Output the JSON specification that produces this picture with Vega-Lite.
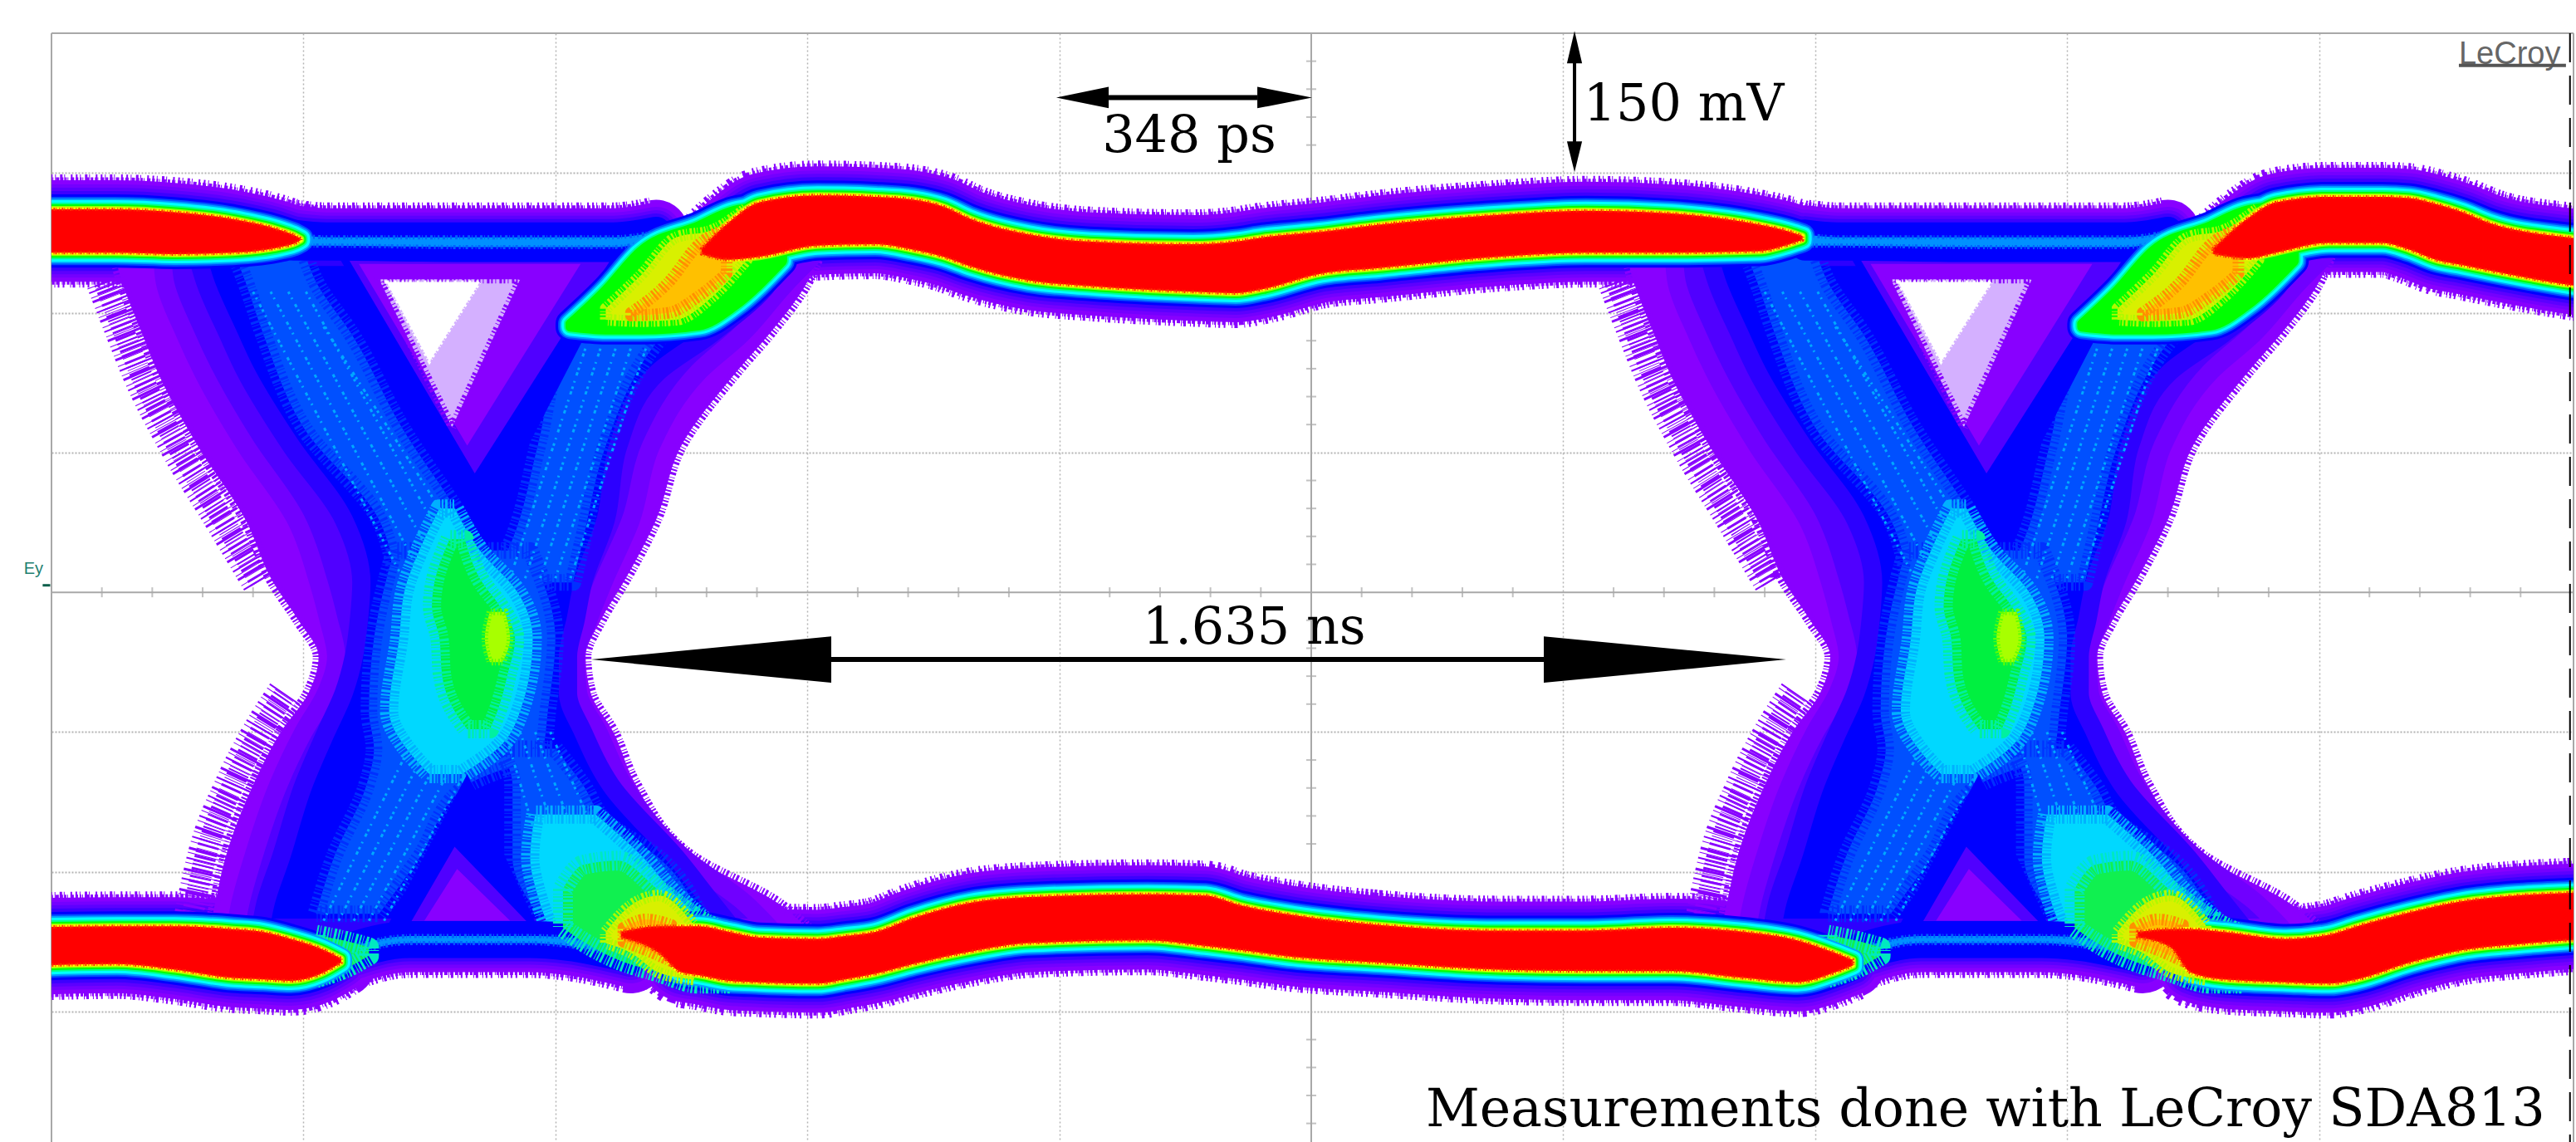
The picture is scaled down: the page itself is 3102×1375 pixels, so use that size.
{"$schema":"https://vega.github.io/schema/vega-lite/v6.json","width":3037,"height":1335,"autosize":{"type":"none"},"padding":{"left":62,"top":40,"right":3,"bottom":0},"background":"white","view":{"stroke":null},
"datasets":{
"bands":[
{"s":"T1","k":"c","t":-20,"v":274,"v2":243},{"s":"T1","k":"c","t":25,"v":274,"v2":243},{"s":"T1","k":"c","t":49,"v":272,"v2":242},{"s":"T1","k":"c","t":72,"v":267,"v2":243},{"s":"T1","k":"c","t":91,"v":259,"v2":247},{"s":"T1","k":"c","t":97,"v":255,"v2":250},{"s":"T1","k":"c","t":99,"v":253,"v2":252},
{"s":"T2","k":"c","t":258,"v":246,"v2":242},{"s":"T2","k":"c","t":269,"v":265,"v2":238},{"s":"T2","k":"c","t":281,"v":279,"v2":240},{"s":"T2","k":"c","t":304,"v":284,"v2":248},{"s":"T2","k":"c","t":327,"v":283,"v2":249},{"s":"T2","k":"c","t":342,"v":281,"v2":245},{"s":"T2","k":"c","t":354,"v":276,"v2":240},{"s":"T2","k":"c","t":365,"v":267,"v2":233},{"s":"T2","k":"c","t":388,"v":256,"v2":223},{"s":"T2","k":"c","t":412,"v":251,"v2":219},{"s":"T2","k":"c","t":453,"v":249,"v2":215},{"s":"T2","k":"c","t":470,"v":251,"v2":214},{"s":"T2","k":"c","t":481,"v":254,"v2":217},{"s":"T2","k":"c","t":504,"v":258,"v2":228},{"s":"T2","k":"c","t":527,"v":263,"v2":232},{"s":"T2","k":"c","t":574,"v":270,"v2":240},{"s":"T2","k":"c","t":609,"v":273,"v2":243},{"s":"T2","k":"c","t":643,"v":271,"v2":243},{"s":"T2","k":"c","t":678,"v":263,"v2":244},{"s":"T2","k":"c","t":690,"v":258,"v2":249},{"s":"T2","k":"c","t":695,"v":255,"v2":252},
{"s":"T3","k":"c","t":858,"v":246,"v2":242},{"s":"T3","k":"c","t":872,"v":268,"v2":239},{"s":"T3","k":"c","t":883,"v":279,"v2":243},{"s":"T3","k":"c","t":904,"v":283,"v2":250},{"s":"T3","k":"c","t":925,"v":283,"v2":250},{"s":"T3","k":"c","t":936,"v":282,"v2":245},{"s":"T3","k":"c","t":946,"v":278,"v2":238},{"s":"T3","k":"c","t":957,"v":272,"v2":234},{"s":"T3","k":"c","t":968,"v":264,"v2":230},{"s":"T3","k":"c","t":999,"v":254,"v2":220},{"s":"T3","k":"c","t":1025,"v":250,"v2":214},
{"s":"B1","k":"c","t":-20,"v":-240,"v2":-268},{"s":"B1","k":"c","t":26,"v":-239,"v2":-266},{"s":"B1","k":"c","t":49,"v":-239,"v2":-270},{"s":"B1","k":"c","t":72,"v":-241,"v2":-276},{"s":"B1","k":"c","t":84,"v":-243,"v2":-277},{"s":"B1","k":"c","t":95,"v":-248,"v2":-278},{"s":"B1","k":"c","t":107,"v":-255,"v2":-273},{"s":"B1","k":"c","t":115,"v":-262,"v2":-265},
{"s":"B2","k":"c","t":226,"v":-243,"v2":-247},{"s":"B2","k":"c","t":241,"v":-239,"v2":-258},{"s":"B2","k":"c","t":250,"v":-239,"v2":-272},{"s":"B2","k":"c","t":257,"v":-239,"v2":-274},{"s":"B2","k":"c","t":269,"v":-243,"v2":-278},{"s":"B2","k":"c","t":281,"v":-247,"v2":-279},{"s":"B2","k":"c","t":304,"v":-248,"v2":-280},{"s":"B2","k":"c","t":315,"v":-246,"v2":-277},{"s":"B2","k":"c","t":327,"v":-243,"v2":-273},{"s":"B2","k":"c","t":342,"v":-233,"v2":-266},{"s":"B2","k":"c","t":365,"v":-222,"v2":-257},{"s":"B2","k":"c","t":388,"v":-218,"v2":-251},{"s":"B2","k":"c","t":435,"v":-216,"v2":-249},{"s":"B2","k":"c","t":458,"v":-217,"v2":-253},{"s":"B2","k":"c","t":472,"v":-224,"v2":-256},{"s":"B2","k":"c","t":493,"v":-231,"v2":-261},{"s":"B2","k":"c","t":527,"v":-238,"v2":-265},{"s":"B2","k":"c","t":574,"v":-242,"v2":-270},{"s":"B2","k":"c","t":609,"v":-242,"v2":-271},{"s":"B2","k":"c","t":643,"v":-240,"v2":-271},{"s":"B2","k":"c","t":672,"v":-243,"v2":-276},{"s":"B2","k":"c","t":693,"v":-249,"v2":-279},{"s":"B2","k":"c","t":708,"v":-258,"v2":-272},{"s":"B2","k":"c","t":715,"v":-263,"v2":-267},
{"s":"B3","k":"c","t":828,"v":-243,"v2":-247},{"s":"B3","k":"c","t":841,"v":-241,"v2":-254},{"s":"B3","k":"c","t":849,"v":-241,"v2":-272},{"s":"B3","k":"c","t":862,"v":-243,"v2":-277},{"s":"B3","k":"c","t":887,"v":-248,"v2":-279},{"s":"B3","k":"c","t":904,"v":-245,"v2":-280},{"s":"B3","k":"c","t":915,"v":-239,"v2":-277},{"s":"B3","k":"c","t":936,"v":-229,"v2":-265},{"s":"B3","k":"c","t":957,"v":-221,"v2":-256},{"s":"B3","k":"c","t":978,"v":-217,"v2":-252},{"s":"B3","k":"c","t":999,"v":-215,"v2":-249},{"s":"B3","k":"c","t":1025,"v":-213,"v2":-247},
{"s":"N1","k":"n","t":96,"v":256,"v2":248},{"s":"N1","k":"n","t":109,"v":254,"v2":248},{"s":"N1","k":"n","t":165,"v":254,"v2":247},{"s":"N1","k":"n","t":223,"v":254,"v2":247},{"s":"N1","k":"n","t":240,"v":258,"v2":252},
{"s":"N2","k":"n","t":696,"v":256,"v2":248},{"s":"N2","k":"n","t":709,"v":254,"v2":248},{"s":"N2","k":"n","t":765,"v":254,"v2":247},{"s":"N2","k":"n","t":823,"v":254,"v2":247},{"s":"N2","k":"n","t":840,"v":258,"v2":252},
{"s":"N3","k":"n","t":115,"v":-256,"v2":-262},{"s":"N3","k":"n","t":142,"v":-246,"v2":-251},{"s":"N3","k":"n","t":165,"v":-246,"v2":-251},{"s":"N3","k":"n","t":190,"v":-246,"v2":-251},{"s":"N3","k":"n","t":205,"v":-247,"v2":-253},{"s":"N3","k":"n","t":230,"v":-254,"v2":-262},
{"s":"N4","k":"n","t":715,"v":-256,"v2":-262},{"s":"N4","k":"n","t":742,"v":-246,"v2":-251},{"s":"N4","k":"n","t":765,"v":-246,"v2":-251},{"s":"N4","k":"n","t":790,"v":-246,"v2":-251},{"s":"N4","k":"n","t":805,"v":-247,"v2":-253},{"s":"N4","k":"n","t":830,"v":-254,"v2":-262},
{"s":"G1","k":"g","t":206,"v":192,"v2":190},{"s":"G1","k":"g","t":220,"v":216,"v2":188},{"s":"G1","k":"g","t":234,"v":244,"v2":188},{"s":"G1","k":"g","t":257,"v":262,"v2":191},{"s":"G1","k":"g","t":271,"v":273,"v2":205},{"s":"G1","k":"g","t":290,"v":277,"v2":237},
{"s":"G2","k":"g","t":806,"v":192,"v2":190},{"s":"G2","k":"g","t":820,"v":216,"v2":188},{"s":"G2","k":"g","t":834,"v":244,"v2":188},{"s":"G2","k":"g","t":857,"v":262,"v2":191},{"s":"G2","k":"g","t":871,"v":273,"v2":205},{"s":"G2","k":"g","t":890,"v":277,"v2":237},
{"s":"G3","k":"h","t":203,"v":-212,"v2":-240},{"s":"G3","k":"h","t":211,"v":-195,"v2":-250},{"s":"G3","k":"h","t":225,"v":-192,"v2":-263},{"s":"G3","k":"h","t":241,"v":-213,"v2":-272},{"s":"G3","k":"h","t":257,"v":-234,"v2":-280},{"s":"G3","k":"h","t":270,"v":-245,"v2":-280},
{"s":"G4","k":"h","t":803,"v":-212,"v2":-240},{"s":"G4","k":"h","t":811,"v":-195,"v2":-250},{"s":"G4","k":"h","t":825,"v":-192,"v2":-263},{"s":"G4","k":"h","t":841,"v":-213,"v2":-272},{"s":"G4","k":"h","t":857,"v":-234,"v2":-280},{"s":"G4","k":"h","t":870,"v":-245,"v2":-280},
{"s":"G7","k":"h","t":105,"v":-245,"v2":-276},{"s":"G7","k":"h","t":118,"v":-250,"v2":-268},{"s":"G7","k":"h","t":126,"v":-254,"v2":-260},
{"s":"G8","k":"h","t":705,"v":-245,"v2":-276},{"s":"G8","k":"h","t":718,"v":-250,"v2":-268},{"s":"G8","k":"h","t":726,"v":-254,"v2":-260},
{"s":"Y1","k":"y","t":220,"v":203,"v2":195},{"s":"Y1","k":"y","t":234,"v":227,"v2":194},{"s":"Y1","k":"y","t":248,"v":254,"v2":195},{"s":"Y1","k":"y","t":262,"v":259,"v2":211},{"s":"Y1","k":"y","t":276,"v":275,"v2":238},
{"s":"Y2","k":"y","t":820,"v":203,"v2":195},{"s":"Y2","k":"y","t":834,"v":227,"v2":194},{"s":"Y2","k":"y","t":848,"v":254,"v2":195},{"s":"Y2","k":"y","t":862,"v":259,"v2":211},{"s":"Y2","k":"y","t":876,"v":275,"v2":238},
{"s":"Y3","k":"y","t":220,"v":-243,"v2":-251},{"s":"Y3","k":"y","t":230,"v":-224,"v2":-258},{"s":"Y3","k":"y","t":241,"v":-217,"v2":-272},{"s":"Y3","k":"y","t":255,"v":-238,"v2":-277},
{"s":"Y4","k":"y","t":820,"v":-243,"v2":-251},{"s":"Y4","k":"y","t":830,"v":-224,"v2":-258},{"s":"Y4","k":"y","t":841,"v":-217,"v2":-272},{"s":"Y4","k":"y","t":855,"v":-238,"v2":-277},
{"s":"O1","k":"o","t":230,"v":200,"v2":198},{"s":"O1","k":"o","t":245,"v":222,"v2":200},{"s":"O1","k":"o","t":257,"v":249,"v2":212},{"s":"O1","k":"o","t":268,"v":260,"v2":228},
{"s":"O2","k":"o","t":830,"v":200,"v2":198},{"s":"O2","k":"o","t":845,"v":222,"v2":200},{"s":"O2","k":"o","t":857,"v":249,"v2":212},{"s":"O2","k":"o","t":868,"v":260,"v2":228},
{"s":"O3","k":"o","t":227,"v":-240,"v2":-250},{"s":"O3","k":"o","t":236,"v":-234,"v2":-256},{"s":"O3","k":"o","t":246,"v":-238,"v2":-264},
{"s":"O4","k":"o","t":827,"v":-240,"v2":-250},{"s":"O4","k":"o","t":836,"v":-234,"v2":-256},{"s":"O4","k":"o","t":846,"v":-238,"v2":-264}
],
"edges":[
{"s":"e1","t":21,"v":222},{"s":"e1","t":29,"v":185},{"s":"e1","t":35,"v":158},{"s":"e1","t":50,"v":105},{"s":"e1","t":68,"v":52},{"s":"e1","t":83,"v":7},
{"s":"e2","t":93,"v":-72},{"s":"e2","t":83,"v":-100},{"s":"e2","t":72,"v":-138},{"s":"e2","t":61,"v":-190},{"s":"e2","t":57,"v":-222},{"s":"e2","t":55,"v":-240},
{"s":"e3","t":621,"v":222},{"s":"e3","t":629,"v":185},{"s":"e3","t":635,"v":158},{"s":"e3","t":650,"v":105},{"s":"e3","t":668,"v":52},{"s":"e3","t":683,"v":7},
{"s":"e4","t":693,"v":-72},{"s":"e4","t":683,"v":-100},{"s":"e4","t":672,"v":-138},{"s":"e4","t":661,"v":-190},{"s":"e4","t":657,"v":-222},{"s":"e4","t":655,"v":-240}
],
"streaks":[
{"s":"a1","t":80,"v":215},{"s":"a1","t":138,"v":15},{"s":"a2","t":87,"v":215},{"s":"a2","t":146,"v":15},{"s":"a3","t":94,"v":215},{"s":"a3","t":154,"v":15},{"s":"a4","t":101,"v":215},{"s":"a4","t":162,"v":15},{"s":"a5","t":108,"v":190},{"s":"a5","t":170,"v":15},
{"s":"b1","t":212,"v":175},{"s":"b1","t":182,"v":10},{"s":"b2","t":218,"v":175},{"s":"b2","t":188,"v":10},{"s":"b3","t":224,"v":175},{"s":"b3","t":194,"v":10},{"s":"b4","t":230,"v":175},{"s":"b4","t":200,"v":10},{"s":"b5","t":236,"v":175},{"s":"b5","t":206,"v":10},
{"s":"c1","t":145,"v":-100},{"s":"c1","t":108,"v":-235},{"s":"c2","t":152,"v":-100},{"s":"c2","t":114,"v":-235},{"s":"c3","t":159,"v":-100},{"s":"c3","t":120,"v":-235},{"s":"c4","t":166,"v":-100},{"s":"c4","t":126,"v":-235},{"s":"c5","t":173,"v":-100},{"s":"c5","t":132,"v":-235},
{"s":"d1","t":180,"v":-100},{"s":"d1","t":198,"v":-210},{"s":"d2","t":186,"v":-100},{"s":"d2","t":205,"v":-200},{"s":"d3","t":192,"v":-100},{"s":"d3","t":212,"v":-195},{"s":"d4","t":198,"v":-100},{"s":"d4","t":220,"v":-190},
{"s":"f1","t":680,"v":215},{"s":"f1","t":738,"v":15},{"s":"f2","t":687,"v":215},{"s":"f2","t":746,"v":15},{"s":"f3","t":694,"v":215},{"s":"f3","t":754,"v":15},{"s":"f4","t":701,"v":215},{"s":"f4","t":762,"v":15},{"s":"f5","t":708,"v":190},{"s":"f5","t":770,"v":15},
{"s":"g1","t":812,"v":175},{"s":"g1","t":782,"v":10},{"s":"g2","t":818,"v":175},{"s":"g2","t":788,"v":10},{"s":"g3","t":824,"v":175},{"s":"g3","t":794,"v":10},{"s":"g4","t":830,"v":175},{"s":"g4","t":800,"v":10},{"s":"g5","t":836,"v":175},{"s":"g5","t":806,"v":10},
{"s":"h1","t":745,"v":-100},{"s":"h1","t":708,"v":-235},{"s":"h2","t":752,"v":-100},{"s":"h2","t":714,"v":-235},{"s":"h3","t":759,"v":-100},{"s":"h3","t":720,"v":-235},{"s":"h4","t":766,"v":-100},{"s":"h4","t":726,"v":-235},{"s":"h5","t":773,"v":-100},{"s":"h5","t":732,"v":-235},
{"s":"i1","t":780,"v":-100},{"s":"i1","t":798,"v":-210},{"s":"i2","t":786,"v":-100},{"s":"i2","t":805,"v":-200},{"s":"i3","t":792,"v":-100},{"s":"i3","t":812,"v":-195},{"s":"i4","t":798,"v":-100},{"s":"i4","t":820,"v":-190}
],
"body":[
{"s":"P1","k":"P","v":250,"t":24,"t2":306},{"s":"P1","k":"P","v":222,"t":28,"t2":300},{"s":"P1","k":"P","v":185,"t":36,"t2":285},{"s":"P1","k":"P","v":158,"t":42,"t2":272},{"s":"P1","k":"P","v":105,"t":58,"t2":250},{"s":"P1","k":"P","v":52,"t":77,"t2":240},{"s":"P1","k":"P","v":7,"t":88,"t2":227},{"s":"P1","k":"P","v":-20,"t":98,"t2":218},{"s":"P1","k":"P","v":-46,"t":106,"t2":212},{"s":"P1","k":"P","v":-72,"t":102,"t2":214},{"s":"P1","k":"P","v":-100,"t":91,"t2":223},{"s":"P1","k":"P","v":-138,"t":80,"t2":232},{"s":"P1","k":"P","v":-190,"t":69,"t2":255},{"s":"P1","k":"P","v":-222,"t":65,"t2":288},{"s":"P1","k":"P","v":-240,"t":63,"t2":300},
{"s":"P2","k":"P","v":250,"t":624,"t2":906},{"s":"P2","k":"P","v":222,"t":628,"t2":900},{"s":"P2","k":"P","v":185,"t":636,"t2":885},{"s":"P2","k":"P","v":158,"t":642,"t2":872},{"s":"P2","k":"P","v":105,"t":658,"t2":850},{"s":"P2","k":"P","v":52,"t":677,"t2":840},{"s":"P2","k":"P","v":7,"t":688,"t2":827},{"s":"P2","k":"P","v":-20,"t":698,"t2":818},{"s":"P2","k":"P","v":-46,"t":706,"t2":812},{"s":"P2","k":"P","v":-72,"t":702,"t2":814},{"s":"P2","k":"P","v":-100,"t":691,"t2":823},{"s":"P2","k":"P","v":-138,"t":680,"t2":832},{"s":"P2","k":"P","v":-190,"t":669,"t2":855},{"s":"P2","k":"P","v":-222,"t":665,"t2":888},{"s":"P2","k":"P","v":-240,"t":663,"t2":900},
{"s":"V1","k":"V","v":240,"t":44,"t2":302},{"s":"V1","k":"V","v":222,"t":45,"t2":292},{"s":"V1","k":"V","v":185,"t":53,"t2":274},{"s":"V1","k":"V","v":158,"t":60,"t2":257},{"s":"V1","k":"V","v":105,"t":77,"t2":238},{"s":"V1","k":"V","v":52,"t":97,"t2":230},{"s":"V1","k":"V","v":7,"t":106,"t2":219},{"s":"V1","k":"V","v":-20,"t":110,"t2":213},{"s":"V1","k":"V","v":-46,"t":113,"t2":208},{"s":"V1","k":"V","v":-72,"t":109,"t2":209},{"s":"V1","k":"V","v":-100,"t":100,"t2":217},{"s":"V1","k":"V","v":-138,"t":90,"t2":227},{"s":"V1","k":"V","v":-190,"t":80,"t2":251},{"s":"V1","k":"V","v":-222,"t":75,"t2":275},{"s":"V1","k":"V","v":-240,"t":73,"t2":285},
{"s":"V2","k":"V","v":240,"t":644,"t2":902},{"s":"V2","k":"V","v":222,"t":645,"t2":892},{"s":"V2","k":"V","v":185,"t":653,"t2":874},{"s":"V2","k":"V","v":158,"t":660,"t2":857},{"s":"V2","k":"V","v":105,"t":677,"t2":838},{"s":"V2","k":"V","v":52,"t":697,"t2":830},{"s":"V2","k":"V","v":7,"t":706,"t2":819},{"s":"V2","k":"V","v":-20,"t":710,"t2":813},{"s":"V2","k":"V","v":-46,"t":713,"t2":808},{"s":"V2","k":"V","v":-72,"t":709,"t2":809},{"s":"V2","k":"V","v":-100,"t":700,"t2":817},{"s":"V2","k":"V","v":-138,"t":690,"t2":827},{"s":"V2","k":"V","v":-190,"t":680,"t2":851},{"s":"V2","k":"V","v":-222,"t":675,"t2":875},{"s":"V2","k":"V","v":-240,"t":673,"t2":885},
{"s":"B1","k":"B","v":240,"t":58,"t2":290},{"s":"B1","k":"B","v":222,"t":61,"t2":285},{"s":"B1","k":"B","v":185,"t":70,"t2":262},{"s":"B1","k":"B","v":158,"t":77,"t2":241},{"s":"B1","k":"B","v":105,"t":95,"t2":225},{"s":"B1","k":"B","v":52,"t":116,"t2":220},{"s":"B1","k":"B","v":7,"t":123,"t2":211},{"s":"B1","k":"B","v":-20,"t":122,"t2":208},{"s":"B1","k":"B","v":-46,"t":120,"t2":205},{"s":"B1","k":"B","v":-72,"t":116,"t2":205},{"s":"B1","k":"B","v":-100,"t":109,"t2":211},{"s":"B1","k":"B","v":-138,"t":100,"t2":222},{"s":"B1","k":"B","v":-190,"t":91,"t2":248},{"s":"B1","k":"B","v":-222,"t":85,"t2":262},{"s":"B1","k":"B","v":-240,"t":83,"t2":270},
{"s":"B2","k":"B","v":240,"t":658,"t2":890},{"s":"B2","k":"B","v":222,"t":661,"t2":885},{"s":"B2","k":"B","v":185,"t":670,"t2":862},{"s":"B2","k":"B","v":158,"t":677,"t2":841},{"s":"B2","k":"B","v":105,"t":695,"t2":825},{"s":"B2","k":"B","v":52,"t":716,"t2":820},{"s":"B2","k":"B","v":7,"t":723,"t2":811},{"s":"B2","k":"B","v":-20,"t":722,"t2":808},{"s":"B2","k":"B","v":-46,"t":720,"t2":805},{"s":"B2","k":"B","v":-72,"t":716,"t2":805},{"s":"B2","k":"B","v":-100,"t":709,"t2":811},{"s":"B2","k":"B","v":-138,"t":700,"t2":822},{"s":"B2","k":"B","v":-190,"t":691,"t2":848},{"s":"B2","k":"B","v":-222,"t":685,"t2":862},{"s":"B2","k":"B","v":-240,"t":683,"t2":870},
{"s":"A1","k":"A","v":245,"t":72,"t2":100},{"s":"A1","k":"A","v":222,"t":77,"t2":105},{"s":"A1","k":"A","v":185,"t":84,"t2":119},{"s":"A1","k":"A","v":118,"t":100,"t2":139},{"s":"A1","k":"A","v":52,"t":130,"t2":163},{"s":"A1","k":"A","v":7,"t":137,"t2":176},
{"s":"A2","k":"A","v":245,"t":672,"t2":700},{"s":"A2","k":"A","v":222,"t":677,"t2":705},{"s":"A2","k":"A","v":185,"t":684,"t2":719},{"s":"A2","k":"A","v":118,"t":700,"t2":739},{"s":"A2","k":"A","v":52,"t":730,"t2":763},{"s":"A2","k":"A","v":7,"t":737,"t2":776},
{"s":"A3","k":"A","v":190,"t":207,"t2":245},{"s":"A3","k":"A","v":171,"t":202,"t2":237},{"s":"A3","k":"A","v":105,"t":193,"t2":220},{"s":"A3","k":"A","v":38,"t":183,"t2":211},{"s":"A3","k":"A","v":7,"t":175,"t2":207},
{"s":"A4","k":"A","v":190,"t":807,"t2":845},{"s":"A4","k":"A","v":171,"t":802,"t2":837},{"s":"A4","k":"A","v":105,"t":793,"t2":820},{"s":"A4","k":"A","v":38,"t":783,"t2":811},{"s":"A4","k":"A","v":7,"t":775,"t2":807},
{"s":"A5","k":"A","v":30,"t":136,"t2":190},{"s":"A5","k":"A","v":-33,"t":128,"t2":200},{"s":"A5","k":"A","v":-85,"t":126,"t2":197},{"s":"A5","k":"A","v":-112,"t":128,"t2":195},{"s":"A5","k":"A","v":-138,"t":125,"t2":165},{"s":"A5","k":"A","v":-190,"t":112,"t2":146},{"s":"A5","k":"A","v":-230,"t":105,"t2":130},
{"s":"A6","k":"A","v":30,"t":736,"t2":790},{"s":"A6","k":"A","v":-33,"t":728,"t2":800},{"s":"A6","k":"A","v":-85,"t":726,"t2":797},{"s":"A6","k":"A","v":-112,"t":728,"t2":795},{"s":"A6","k":"A","v":-138,"t":725,"t2":765},{"s":"A6","k":"A","v":-190,"t":712,"t2":746},{"s":"A6","k":"A","v":-230,"t":705,"t2":730},
{"s":"A7","k":"A","v":-112,"t":178,"t2":200},{"s":"A7","k":"A","v":-138,"t":183,"t2":211},{"s":"A7","k":"A","v":-164,"t":183,"t2":220},{"s":"A7","k":"A","v":-190,"t":183,"t2":241},{"s":"A7","k":"A","v":-230,"t":193,"t2":257},
{"s":"A8","k":"A","v":-112,"t":778,"t2":800},{"s":"A8","k":"A","v":-138,"t":783,"t2":811},{"s":"A8","k":"A","v":-164,"t":783,"t2":820},{"s":"A8","k":"A","v":-190,"t":783,"t2":841},{"s":"A8","k":"A","v":-230,"t":793,"t2":857},
{"s":"C1","k":"C","v":60,"t":154,"t2":160},{"s":"C1","k":"C","v":30,"t":146,"t2":170},{"s":"C1","k":"C","v":0,"t":140,"t2":185},{"s":"C1","k":"C","v":-33,"t":138,"t2":191},{"s":"C1","k":"C","v":-85,"t":134,"t2":186},{"s":"C1","k":"C","v":-112,"t":141,"t2":177},{"s":"C1","k":"C","v":-130,"t":150,"t2":163},
{"s":"C2","k":"C","v":60,"t":754,"t2":760},{"s":"C2","k":"C","v":30,"t":746,"t2":770},{"s":"C2","k":"C","v":0,"t":740,"t2":785},{"s":"C2","k":"C","v":-33,"t":738,"t2":791},{"s":"C2","k":"C","v":-85,"t":734,"t2":786},{"s":"C2","k":"C","v":-112,"t":741,"t2":777},{"s":"C2","k":"C","v":-130,"t":750,"t2":763},
{"s":"C3","k":"C","v":-159,"t":192,"t2":216},{"s":"C3","k":"C","v":-190,"t":190,"t2":235},{"s":"C3","k":"C","v":-217,"t":193,"t2":248},{"s":"C3","k":"C","v":-243,"t":198,"t2":265},
{"s":"C4","k":"C","v":-159,"t":792,"t2":816},{"s":"C4","k":"C","v":-190,"t":790,"t2":835},{"s":"C4","k":"C","v":-217,"t":793,"t2":848},{"s":"C4","k":"C","v":-243,"t":798,"t2":865},
{"s":"G1","k":"G","v":38,"t":158,"t2":164},{"s":"G1","k":"G","v":7,"t":152,"t2":171},{"s":"G1","k":"G","v":-10,"t":151,"t2":178},{"s":"G1","k":"G","v":-33,"t":154,"t2":184},{"s":"G1","k":"G","v":-59,"t":155,"t2":181},{"s":"G1","k":"G","v":-85,"t":160,"t2":177},{"s":"G1","k":"G","v":-98,"t":165,"t2":174},
{"s":"G2","k":"G","v":38,"t":758,"t2":764},{"s":"G2","k":"G","v":7,"t":752,"t2":771},{"s":"G2","k":"G","v":-10,"t":751,"t2":778},{"s":"G2","k":"G","v":-33,"t":754,"t2":784},{"s":"G2","k":"G","v":-59,"t":755,"t2":781},{"s":"G2","k":"G","v":-85,"t":760,"t2":777},{"s":"G2","k":"G","v":-98,"t":765,"t2":774},
{"s":"L1","k":"L","v":-14,"t":174,"t2":180},{"s":"L1","k":"L","v":-33,"t":172,"t2":182},{"s":"L1","k":"L","v":-50,"t":174,"t2":179},
{"s":"L2","k":"L","v":-14,"t":774,"t2":780},{"s":"L2","k":"L","v":-33,"t":772,"t2":782},{"s":"L2","k":"L","v":-50,"t":774,"t2":779}
],
"tri":[
{"s":"a1","k":"B","t":114,"v":240,"v2":240},{"s":"a1","k":"B","t":174,"v":240,"v2":52},{"s":"a1","k":"B","t":228,"v":240,"v2":240},
{"s":"a2","k":"V","t":118,"v":238,"v2":238},{"s":"a2","k":"V","t":168,"v":238,"v2":85},{"s":"a2","k":"V","t":222,"v":238,"v2":238},
{"s":"a3","k":"P","t":122,"v":235,"v2":235},{"s":"a3","k":"P","t":165,"v":235,"v2":105},{"s":"a3","k":"P","t":210,"v":235,"v2":235},
{"s":"a4","k":"F","t":130,"v":224,"v2":224},{"s":"a4","k":"F","t":159,"v":224,"v2":118},{"s":"a4","k":"F","t":186,"v":224,"v2":224},
{"s":"a5","k":"W","t":133,"v":222,"v2":222},{"s":"a5","k":"W","t":150,"v":222,"v2":165},{"s":"a5","k":"W","t":170,"v":222,"v2":222},
{"s":"b1","k":"B","t":714,"v":240,"v2":240},{"s":"b1","k":"B","t":774,"v":240,"v2":52},{"s":"b1","k":"B","t":828,"v":240,"v2":240},
{"s":"b2","k":"V","t":718,"v":238,"v2":238},{"s":"b2","k":"V","t":768,"v":238,"v2":85},{"s":"b2","k":"V","t":822,"v":238,"v2":238},
{"s":"b3","k":"P","t":722,"v":235,"v2":235},{"s":"b3","k":"P","t":765,"v":235,"v2":105},{"s":"b3","k":"P","t":810,"v":235,"v2":235},
{"s":"b4","k":"F","t":730,"v":224,"v2":224},{"s":"b4","k":"F","t":759,"v":224,"v2":118},{"s":"b4","k":"F","t":786,"v":224,"v2":224},
{"s":"b5","k":"W","t":733,"v":222,"v2":222},{"s":"b5","k":"W","t":750,"v":222,"v2":165},{"s":"b5","k":"W","t":770,"v":222,"v2":222},
{"s":"c1","k":"B","t":133,"v":-240,"v2":-240},{"s":"c1","k":"B","t":165,"v":-130,"v2":-240},{"s":"c1","k":"B","t":193,"v":-240,"v2":-240},
{"s":"c2","k":"V","t":142,"v":-238,"v2":-238},{"s":"c2","k":"V","t":160,"v":-182,"v2":-238},{"s":"c2","k":"V","t":190,"v":-238,"v2":-238},
{"s":"c3","k":"P","t":148,"v":-235,"v2":-235},{"s":"c3","k":"P","t":161,"v":-198,"v2":-235},{"s":"c3","k":"P","t":182,"v":-235,"v2":-235},
{"s":"d1","k":"B","t":733,"v":-240,"v2":-240},{"s":"d1","k":"B","t":765,"v":-130,"v2":-240},{"s":"d1","k":"B","t":793,"v":-240,"v2":-240},
{"s":"d2","k":"V","t":742,"v":-238,"v2":-238},{"s":"d2","k":"V","t":760,"v":-182,"v2":-238},{"s":"d2","k":"V","t":790,"v":-238,"v2":-238},
{"s":"d3","k":"P","t":748,"v":-235,"v2":-235},{"s":"d3","k":"P","t":761,"v":-198,"v2":-235},{"s":"d3","k":"P","t":782,"v":-235,"v2":-235}
],
"heads":[
{"s":"h1","t":398.8,"v":354,"v2":354},{"s":"h1","t":419.6,"v":361.7,"v2":346.3},
{"s":"h2","t":478.6,"v":361.7,"v2":346.3},{"s":"h2","t":500.3,"v":354,"v2":354},
{"s":"h3","t":214.2,"v":-48.1,"v2":-48.1},{"s":"h3","t":309.5,"v":-31.5,"v2":-64.7},
{"s":"h4","t":592.3,"v":-31.5,"v2":-64.7},{"s":"h4","t":688.5,"v":-48.1,"v2":-48.1},
{"s":"h5","t":601.5,"v":378.5,"v2":378.5},{"s":"h5","t":604.5,"v":401.7,"v2":378.5},{"s":"h5","t":607.5,"v":378.5,"v2":378.5},
{"s":"h6","t":601.5,"v":322.6,"v2":322.6},{"s":"h6","t":604.5,"v":322.6,"v2":300.6},{"s":"h6","t":607.5,"v":322.6,"v2":322.6}
]},
"encoding":{
"x":{"field":"t","type":"quantitative","scale":{"domain":[0,1001],"nice":false,"zero":false},"axis":{"values":[100,200,300,400,600,700,800,900],"grid":true,"gridColor":"#b4b4b4","gridDash":[2,3],"gridWidth":1.5,"domain":false,"ticks":false,"labels":false,"title":null}},
"y":{"field":"v","type":"quantitative","scale":{"domain":[-393.3,400],"nice":false,"zero":false},"axis":{"values":[300,200,100,-100,-200,-300],"grid":true,"gridColor":"#b4b4b4","gridDash":[2,2],"gridWidth":2,"domain":false,"ticks":false,"labels":false,"title":null}}
},
"layer":[
{"data":{"values":[{"t":20,"v":0},{"t":40,"v":0},{"t":60,"v":0},{"t":80,"v":0},{"t":120,"v":0},{"t":140,"v":0},{"t":160,"v":0},{"t":180,"v":0},{"t":220,"v":0},{"t":240,"v":0},{"t":260,"v":0},{"t":280,"v":0},{"t":320,"v":0},{"t":340,"v":0},{"t":360,"v":0},{"t":380,"v":0},{"t":420,"v":0},{"t":440,"v":0},{"t":460,"v":0},{"t":480,"v":0},{"t":520,"v":0},{"t":540,"v":0},{"t":560,"v":0},{"t":580,"v":0},{"t":620,"v":0},{"t":640,"v":0},{"t":660,"v":0},{"t":680,"v":0},{"t":720,"v":0},{"t":740,"v":0},{"t":760,"v":0},{"t":780,"v":0},{"t":820,"v":0},{"t":840,"v":0},{"t":860,"v":0},{"t":880,"v":0},{"t":920,"v":0},{"t":940,"v":0},{"t":960,"v":0},{"t":980,"v":0}]},"mark":{"type":"tick","orient":"vertical","size":12,"thickness":2,"color":"#a8a8a8"}},
{"data":{"values":[{"t":500,"v":380},{"t":500,"v":360},{"t":500,"v":340},{"t":500,"v":320},{"t":500,"v":280},{"t":500,"v":260},{"t":500,"v":240},{"t":500,"v":220},{"t":500,"v":180},{"t":500,"v":160},{"t":500,"v":140},{"t":500,"v":120},{"t":500,"v":80},{"t":500,"v":60},{"t":500,"v":40},{"t":500,"v":20},{"t":500,"v":-20},{"t":500,"v":-40},{"t":500,"v":-60},{"t":500,"v":-80},{"t":500,"v":-120},{"t":500,"v":-140},{"t":500,"v":-160},{"t":500,"v":-180},{"t":500,"v":-220},{"t":500,"v":-240},{"t":500,"v":-260},{"t":500,"v":-280},{"t":500,"v":-320},{"t":500,"v":-340},{"t":500,"v":-360},{"t":500,"v":-380}]},"mark":{"type":"tick","orient":"horizontal","size":12,"thickness":2,"color":"#a8a8a8"}},
{"data":{"values":[{"t":0,"v":400,"v2":-393.3},{"t":500,"v":400,"v2":-393.3},{"t":1001,"v":400,"v2":-393.3}]},"mark":{"type":"rule","color":"#a8a8a8","strokeWidth":2},"encoding":{"y2":{"field":"v2"}}},
{"data":{"values":[{"t":0,"t2":1001,"v":400},{"t":0,"t2":1001,"v":0}]},"mark":{"type":"rule","color":"#a8a8a8","strokeWidth":2},"encoding":{"x2":{"field":"t2"}}},
{"data":{"name":"bands"},"transform":[{"filter":"datum.k=='c'||datum.k=='n'"}],"mark":{"type":"area","interpolate":"monotone","clip":true,"fill":"#8800ff","stroke":"#8800ff","strokeWidth":84,"strokeJoin":"round","strokeDash":[2,3,1,5,3,2,1,7,2,4]},"encoding":{"y2":{"field":"v2"},"detail":{"field":"s"}}},
{"data":{"name":"bands"},"transform":[{"filter":"datum.k=='c'||datum.k=='n'"}],"mark":{"type":"area","interpolate":"monotone","clip":true,"fill":"#8800ff","stroke":"#8800ff","strokeWidth":77,"strokeJoin":"round","strokeDash":[3,2,2,1,1,3,4,2]},"encoding":{"y2":{"field":"v2"},"detail":{"field":"s"}}},
{"data":{"name":"bands"},"transform":[{"filter":"datum.k=='c'||datum.k=='n'"}],"mark":{"type":"area","interpolate":"monotone","clip":true,"fill":"#8800ff","stroke":"#8800ff","strokeWidth":70,"strokeJoin":"round"},"encoding":{"y2":{"field":"v2"},"detail":{"field":"s"}}},
{"data":{"name":"bands"},"transform":[{"filter":"datum.k=='c'||datum.k=='n'"}],"mark":{"type":"area","interpolate":"monotone","clip":true,"fill":"#7400ff","stroke":"#7400ff","strokeWidth":60,"strokeJoin":"round"},"encoding":{"y2":{"field":"v2"},"detail":{"field":"s"}}},
{"data":{"name":"bands"},"transform":[{"filter":"datum.k=='c'||datum.k=='n'"}],"mark":{"type":"area","interpolate":"monotone","clip":true,"fill":"#5c00ff","stroke":"#5c00ff","strokeWidth":52,"strokeJoin":"round"},"encoding":{"y2":{"field":"v2"},"detail":{"field":"s"}}},
{"data":{"name":"bands"},"transform":[{"filter":"datum.k=='c'||datum.k=='n'"}],"mark":{"type":"area","interpolate":"monotone","clip":true,"fill":"#3c00ff","stroke":"#3c00ff","strokeWidth":44,"strokeJoin":"round"},"encoding":{"y2":{"field":"v2"},"detail":{"field":"s"}}},
{"data":{"name":"edges"},"mark":{"type":"line","clip":true,"interpolate":"monotone","color":"#8800ff","strokeWidth":44,"strokeDash":[1,4,2,5,1,3,3,6]},"encoding":{"detail":{"field":"s"}}},
{"data":{"name":"edges"},"mark":{"type":"line","clip":true,"interpolate":"monotone","color":"#8800ff","strokeWidth":26,"strokeDash":[2,2,1,4,3,3]},"encoding":{"detail":{"field":"s"}}},
{"data":{"name":"body"},"transform":[{"filter":"datum.k=='P'"}],"mark":{"type":"area","orient":"horizontal","interpolate":"monotone","clip":true,"fill":"#8800ff","stroke":"#8800ff","strokeWidth":14,"strokeJoin":"round","strokeDash":[2,2,1,3,3,2]},"encoding":{"x2":{"field":"t2"},"detail":{"field":"s"}}},
{"data":{"name":"body"},"transform":[{"filter":"datum.k=='V'"}],"mark":{"type":"area","orient":"horizontal","interpolate":"monotone","clip":true,"fill":"#5000ff","stroke":"#7000ff","strokeWidth":22,"strokeJoin":"round"},"encoding":{"x2":{"field":"t2"},"detail":{"field":"s"}}},
{"data":{"name":"body"},"transform":[{"filter":"datum.k=='B'"}],"mark":{"type":"area","orient":"horizontal","interpolate":"monotone","clip":true,"fill":"#0000ff","stroke":"#2c00ff","strokeWidth":22,"strokeJoin":"round"},"encoding":{"x2":{"field":"t2"},"detail":{"field":"s"}}},
{"data":{"name":"body"},"transform":[{"filter":"datum.k=='A'"}],"mark":{"type":"area","orient":"horizontal","interpolate":"monotone","clip":true,"fill":"#0050ff","stroke":"#0030ff","strokeWidth":20,"strokeJoin":"round","strokeDash":[3,2,1,3,2,4]},"encoding":{"x2":{"field":"t2"},"detail":{"field":"s"}}},
{"data":{"name":"streaks"},"mark":{"type":"line","clip":true,"color":"#00a8ff","strokeWidth":3,"strokeDash":[3,5,2,7,4,3]},"encoding":{"detail":{"field":"s"}}},
{"data":{"name":"body"},"transform":[{"filter":"datum.k=='C'"}],"mark":{"type":"area","orient":"horizontal","interpolate":"monotone","clip":true,"fill":"#00d8ff","stroke":"#00b0ff","strokeWidth":22,"strokeJoin":"round","strokeDash":[2,2,1,3,3,2]},"encoding":{"x2":{"field":"t2"},"detail":{"field":"s"}}},
{"data":{"name":"body"},"transform":[{"filter":"datum.k=='G'"}],"mark":{"type":"area","orient":"horizontal","interpolate":"monotone","clip":true,"fill":"#00f040","stroke":"#00f0a0","strokeWidth":22,"strokeJoin":"round","strokeDash":[2,2,1,3,3,2]},"encoding":{"x2":{"field":"t2"},"detail":{"field":"s"}}},
{"data":{"name":"body"},"transform":[{"filter":"datum.k=='L'"}],"mark":{"type":"area","orient":"horizontal","interpolate":"monotone","clip":true,"fill":"#a8ff00","stroke":"#60ff00","strokeWidth":8,"strokeDash":[2,2,1,3]},"encoding":{"x2":{"field":"t2"},"detail":{"field":"s"}}},
{"data":{"name":"tri"},"transform":[{"filter":"datum.k=='B'"}],"mark":{"type":"area","clip":true,"fill":"#0000ff"},"encoding":{"y2":{"field":"v2"},"detail":{"field":"s"}}},
{"data":{"name":"tri"},"transform":[{"filter":"datum.k=='V'"}],"mark":{"type":"area","clip":true,"fill":"#5000ff"},"encoding":{"y2":{"field":"v2"},"detail":{"field":"s"}}},
{"data":{"name":"tri"},"transform":[{"filter":"datum.k=='P'"}],"mark":{"type":"area","clip":true,"fill":"#8800ff"},"encoding":{"y2":{"field":"v2"},"detail":{"field":"s"}}},
{"data":{"name":"tri"},"transform":[{"filter":"datum.k=='F'"}],"mark":{"type":"area","clip":true,"fill":"#d4b0ff","stroke":"#8800ff","strokeWidth":10,"strokeDash":[2,3,1,4,3,2]},"encoding":{"y2":{"field":"v2"},"detail":{"field":"s"}}},
{"data":{"name":"tri"},"transform":[{"filter":"datum.k=='W'"}],"mark":{"type":"area","clip":true,"fill":"#ffffff","stroke":"#ffffff","strokeWidth":4,"strokeDash":[3,2,1,3]},"encoding":{"y2":{"field":"v2"},"detail":{"field":"s"}}},
{"data":{"name":"bands"},"transform":[{"filter":"datum.k=='c'||datum.k=='n'||datum.k=='g'"}],"mark":{"type":"area","interpolate":"monotone","clip":true,"fill":"#0000ff","stroke":"#0000ff","strokeWidth":36,"strokeJoin":"round"},"encoding":{"y2":{"field":"v2"},"detail":{"field":"s"}}},
{"data":{"name":"bands"},"transform":[{"filter":"datum.k=='c'||datum.k=='g'"}],"mark":{"type":"area","interpolate":"monotone","clip":true,"fill":"#0050ff","stroke":"#0050ff","strokeWidth":30,"strokeJoin":"round"},"encoding":{"y2":{"field":"v2"},"detail":{"field":"s"}}},
{"data":{"name":"bands"},"transform":[{"filter":"datum.k=='n'"}],"mark":{"type":"area","interpolate":"monotone","clip":true,"fill":"#0090ff","stroke":"#0060ff","strokeWidth":5,"strokeDash":[3,2,1,3,2,4]},"encoding":{"y2":{"field":"v2"},"detail":{"field":"s"}}},
{"data":{"name":"bands"},"transform":[{"filter":"datum.k=='h'"}],"mark":{"type":"area","interpolate":"monotone","clip":true,"fill":"#10f050","stroke":"#00e8c0","strokeWidth":24,"strokeJoin":"round","strokeDash":[2,2,1,3,3,2]},"encoding":{"y2":{"field":"v2"},"detail":{"field":"s"}}},
{"data":{"name":"bands"},"transform":[{"filter":"datum.k=='c'||datum.k=='g'"}],"mark":{"type":"area","interpolate":"monotone","clip":true,"fill":"#00a0ff","stroke":"#00a0ff","strokeWidth":26,"strokeJoin":"round"},"encoding":{"y2":{"field":"v2"},"detail":{"field":"s"}}},
{"data":{"name":"bands"},"transform":[{"filter":"datum.k=='c'||datum.k=='g'"}],"mark":{"type":"area","interpolate":"monotone","clip":true,"fill":"#00ffff","stroke":"#00ffff","strokeWidth":22,"strokeJoin":"round"},"encoding":{"y2":{"field":"v2"},"detail":{"field":"s"}}},
{"data":{"name":"bands"},"transform":[{"filter":"datum.k=='c'||datum.k=='g'"}],"mark":{"type":"area","interpolate":"monotone","clip":true,"fill":"#00ff90","stroke":"#00ff90","strokeWidth":16,"strokeJoin":"round"},"encoding":{"y2":{"field":"v2"},"detail":{"field":"s"}}},
{"data":{"name":"bands"},"transform":[{"filter":"datum.k=='c'||datum.k=='g'"}],"mark":{"type":"area","interpolate":"monotone","clip":true,"fill":"#00ff00","stroke":"#00ff00","strokeWidth":12,"strokeJoin":"round"},"encoding":{"y2":{"field":"v2"},"detail":{"field":"s"}}},
{"data":{"name":"bands"},"transform":[{"filter":"datum.k=='c'"}],"mark":{"type":"area","interpolate":"monotone","clip":true,"fill":"#90ff00","stroke":"#90ff00","strokeWidth":8,"strokeJoin":"round"},"encoding":{"y2":{"field":"v2"},"detail":{"field":"s"}}},
{"data":{"name":"bands"},"transform":[{"filter":"datum.k=='y'"}],"mark":{"type":"area","interpolate":"monotone","clip":true,"fill":"#d8f000","stroke":"#b0f800","strokeWidth":14,"strokeJoin":"round","strokeDash":[2,2,1,3,3,2]},"encoding":{"y2":{"field":"v2"},"detail":{"field":"s"}}},
{"data":{"name":"bands"},"transform":[{"filter":"datum.k=='c'"}],"mark":{"type":"area","interpolate":"monotone","clip":true,"fill":"#ffff00","stroke":"#ffff00","strokeWidth":5,"strokeJoin":"round"},"encoding":{"y2":{"field":"v2"},"detail":{"field":"s"}}},
{"data":{"name":"bands"},"transform":[{"filter":"datum.k=='o'"}],"mark":{"type":"area","interpolate":"monotone","clip":true,"fill":"#ffc000","stroke":"#ff9000","strokeWidth":14,"strokeJoin":"round","strokeDash":[2,3,1,2,3,2]},"encoding":{"y2":{"field":"v2"},"detail":{"field":"s"}}},
{"data":{"name":"bands"},"transform":[{"filter":"datum.k=='c'"}],"mark":{"type":"area","interpolate":"monotone","clip":true,"fill":"#ff0000","stroke":"#ff3000","strokeWidth":4,"strokeJoin":"round","strokeDash":[1,2,2,1,1,3]},"encoding":{"y2":{"field":"v2"},"detail":{"field":"s"}}},
{"data":{"values":[{"t":999.6,"v":400,"v2":-393.3}]},"mark":{"type":"rule","color":"#000000","strokeWidth":2,"strokeDash":[35,16]},"encoding":{"y2":{"field":"v2"}}},
{"data":{"values":[{"t":419.6,"t2":478.6,"v":354},{"t":309.5,"t2":592.3,"v":-48.1}]},"mark":{"type":"rule","color":"#000000","strokeWidth":6},"encoding":{"x2":{"field":"t2"}}},
{"data":{"values":[{"t":604.5,"v":385,"v2":315}]},"mark":{"type":"rule","color":"#000000","strokeWidth":4},"encoding":{"y2":{"field":"v2"}}},
{"data":{"name":"heads"},"mark":{"type":"area","color":"#000000"},"encoding":{"y2":{"field":"v2"},"detail":{"field":"s"}}},
{"data":{"values":[{"t":417,"v":315,"label":"348 ps"},{"t":608,"v":337.5,"label":"150 mV"},{"t":433,"v":-37,"label":"1.635 ns"}]},"mark":{"type":"text","font":"DejaVu Serif","fontSize":62,"align":"left","baseline":"alphabetic","color":"#000000"},"encoding":{"text":{"field":"label"}}},
{"data":{"values":[{"t":545.5,"v":-382,"label":"Measurements done with LeCroy SDA813"}]},"mark":{"type":"text","font":"DejaVu Serif","fontSize":63.3,"align":"left","baseline":"alphabetic","color":"#000000"},"encoding":{"text":{"field":"label"}}},
{"data":{"values":[{"t":955.5,"v":378,"label":"LeCroy"}]},"mark":{"type":"text","font":"Liberation Sans","fontSize":38,"align":"left","baseline":"alphabetic","color":"#666666"},"encoding":{"text":{"field":"label"}}},
{"data":{"values":[{"t":955.5,"t2":998,"v":377}]},"mark":{"type":"rule","color":"#555555","strokeWidth":4},"encoding":{"x2":{"field":"t2"}}},
{"data":{"values":[{"t":-11,"v":13,"label":"Ey"}]},"mark":{"type":"text","font":"Liberation Sans","fontSize":20,"align":"left","baseline":"alphabetic","color":"#1f7f70"},"encoding":{"text":{"field":"label"}}},
{"data":{"values":[{"t":-3.5,"t2":-0.5,"v":5}]},"mark":{"type":"rule","color":"#0b5e4a","strokeWidth":3},"encoding":{"x2":{"field":"t2"}}}
]}
